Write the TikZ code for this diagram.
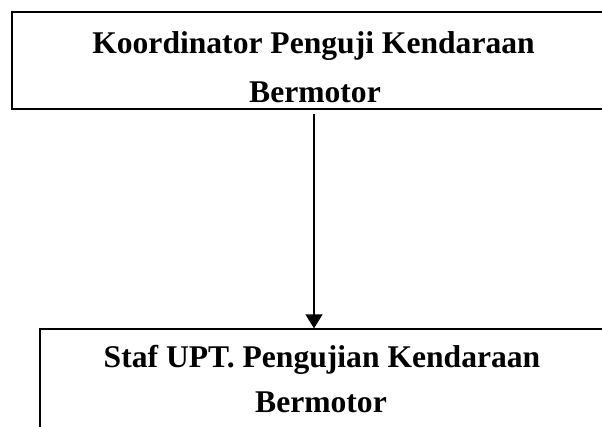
\documentclass[tikz,border=0pt]{standalone}
\usepackage{fontspec}
\setmainfont{Liberation Serif}
\usetikzlibrary{arrows.meta}
\tikzset{
  boxstyle/.style={draw=black, line width=1.3pt, rectangle, inner sep=0pt},
  txt/.style={anchor=base, inner sep=0pt, font=\bfseries\fontsize{31.6}{38}\selectfont},
  conn/.style={line width=1.3pt, -{Triangle[length=14pt,width=17pt]}}
}
\begin{document}
\begin{tikzpicture}[x=1pt,y=-1pt]
\useasboundingbox (0,0) rectangle (602,426);
\clip (0,0) rectangle (602,426);
\node[boxstyle, minimum width=604pt, minimum height=97pt] (top) at (314,60.5) {};
\node[boxstyle, minimum width=564pt, minimum height=140pt] (bot) at (322,399) {};
\node[txt] (t1) at (313.5,53) {Koordinator Penguji Kendaraan};
\node[txt] (t2) at (315,102) {Bermotor};
\node[txt] (b1) at (322,367) {Staf UPT. Pengujian Kendaraan};
\node[txt] (b2) at (321,412) {Bermotor};
\coordinate (s) at (314,114);
\draw[conn] (s) -- (s |- bot.north);
\end{tikzpicture}
\end{document}
